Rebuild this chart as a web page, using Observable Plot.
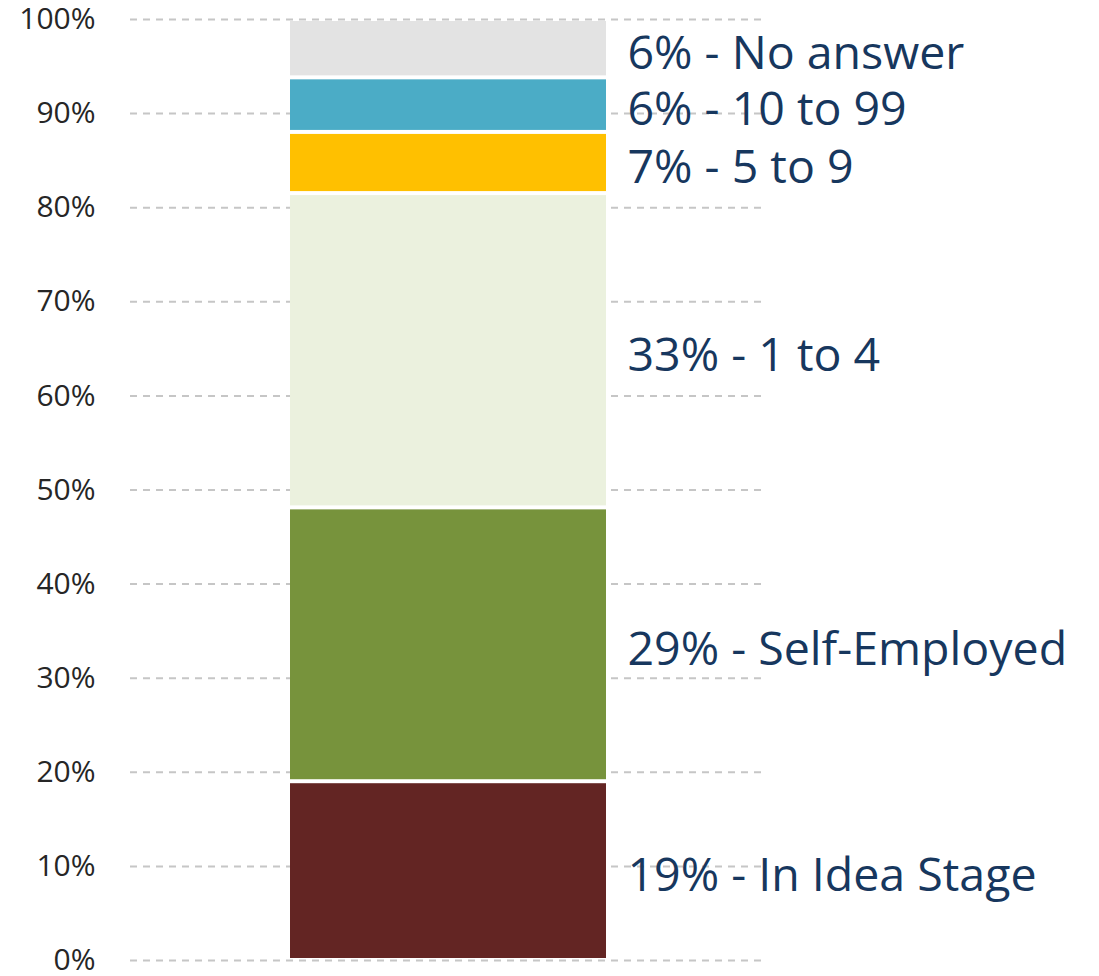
<!DOCTYPE html>
<html>
<head>
<meta charset="utf-8">
<script src="https://cdn.jsdelivr.net/npm/d3@7"></script>
<script src="https://cdn.jsdelivr.net/npm/@observablehq/plot@0.6"></script>
<style>
  html, body { margin: 0; padding: 0; background: #fff; }
  #chart svg { display: block; }
</style>
</head>
<body>
<div id="chart"></div>
<script>
// Data (bottom to top of the stack)
const categories = ["In Idea Stage", "Self-Employed", "1 to 4", "5 to 9", "10 to 99", "No answer"];
const values = [19.0, 29.1, 33.4, 6.5, 5.8, 6.2];
const colors = ["#632523", "#77933C", "#EBF1DE", "#FFC000", "#4BACC6", "#E3E3E3"];
const yTicks = [0, 10, 20, 30, 40, 50, 60, 70, 80, 90, 100];
const barName = "All";

const data = categories.map((c, i) => ({group: barName, category: c, value: values[i]}));

const chart = Plot.plot({
  width: 1099,
  height: 976,
  marginTop: 19,
  marginBottom: 16,
  marginLeft: 130,
  marginRight: 332,
  style: {fontFamily: "'Open Sans', sans-serif", background: "#fff"},
  x: {domain: [barName], padding: 0.3355, axis: null},
  y: {domain: [0, 100], ticks: yTicks, tickFormat: d => d + "%", label: null},
  color: {domain: categories, range: colors},
  marks: [
    Plot.gridY(yTicks, {stroke: "#c6c6c6", strokeOpacity: 1, strokeWidth: 2, strokeDasharray: "7,6"}),
    Plot.axisY(yTicks, {tickSize: 0, tickPadding: 35, fontSize: 30, fill: "#262626", tickFormat: d => d + "%", label: null}),
    Plot.barY(data, {x: "group", y: "value", fill: "category", insetTop: 2, insetBottom: 2}),
    Plot.text(data, Plot.stackY({
      x: "group", y: "value",
      text: d => `${Math.round(d.value)}% - ${d.category}`,
      textAnchor: "start", dx: 179, dy: 5,
      fontSize: 46.5, fill: "#17375E"
    }))
  ]
});
document.getElementById("chart").appendChild(chart);
</script>
</body>
</html>
